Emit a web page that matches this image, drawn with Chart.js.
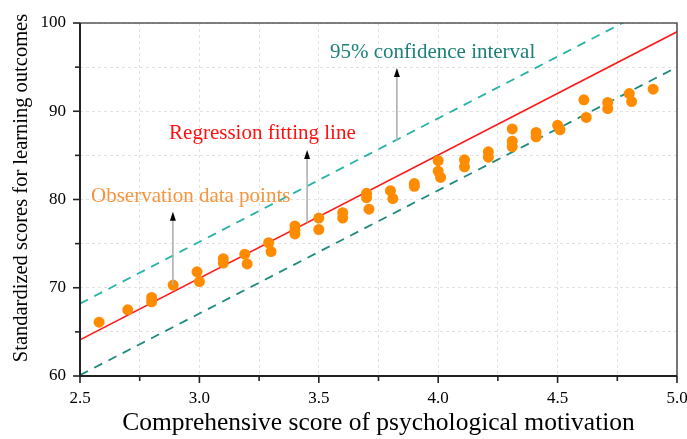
<!DOCTYPE html>
<html>
<head>
<meta charset="utf-8">
<script src="https://cdn.jsdelivr.net/npm/chart.js@4.4.1/dist/chart.umd.min.js"></script>
<style>
html, body { margin: 0; padding: 0; background: #fff; }
#wrap { width: 687px; height: 439px; }
</style>
</head>
<body>
<div id="wrap"><canvas id="chart" width="687" height="439"></canvas></div>
<script>
// observation points
const obsX = [2.58, 2.70, 2.80, 2.80, 2.89, 2.99, 3.00, 3.10, 3.10, 3.19, 3.20, 3.29, 3.30,
  3.40, 3.40, 3.40, 3.50, 3.50, 3.60, 3.60, 3.70, 3.70, 3.71, 3.80, 3.81, 3.90, 3.90,
  4.00, 4.00, 4.01, 4.11, 4.11, 4.21, 4.21, 4.31, 4.31, 4.31, 4.41, 4.41, 4.50, 4.51,
  4.61, 4.62, 4.71, 4.71, 4.80, 4.81, 4.90];
const obsY = [66.1, 67.5, 68.9, 68.4, 70.3, 71.8, 70.7, 73.3, 72.8, 73.8, 72.7, 75.1, 74.1,
  77.0, 76.5, 76.1, 77.9, 76.6, 78.5, 77.9, 80.7, 80.2, 78.9, 81.0, 80.1, 81.8, 81.5,
  84.4, 83.2, 82.5, 84.5, 83.7, 85.4, 84.8, 88.0, 86.6, 86.0, 87.6, 87.1, 88.4, 87.9,
  91.3, 89.3, 91.0, 90.3, 92.0, 91.1, 92.5];

// regression line and 95% band (end points)
const lineX = [2.5, 5.0];
const fitY = [64.1, 99.0];
const upperY = [68.2, 103.2];
const lowerY = [60.1, 95.0];

const xLabels = [2.5, 3.0, 3.5, 4.0, 4.5, 5.0];
const yLabels = [60, 70, 80, 90, 100];

const SERIF = '"Liberation Serif", "Times New Roman", serif';

function pairs(xs, ys) { return xs.map((x, i) => ({ x: x, y: ys[i] })); }
function isLabelX(v) { return xLabels.some(t => Math.abs(t - v) < 1e-6); }
function isLabelY(v) { return yLabels.some(t => Math.abs(t - v) < 1e-6); }

// text notes + arrows, placed in data units
const notes = [
  { text: "95% confidence interval", x: 3.547, y: 96.7, color: "#1b8078" },
  { text: "Regression fitting line", x: 2.873, y: 87.5, color: "#ff1010" },
  { text: "Observation data points", x: 2.546, y: 80.3, color: "#f7943c" }
];
const arrows = [
  { x: 3.827, from: 86.7, to: 94.9 },
  { x: 3.451, from: 77.4, to: 85.6 },
  { x: 2.889, from: 70.3, to: 78.6 }
];

const decor = {
  id: "decor",
  afterDatasetsDraw(chart) {
    const { ctx, chartArea: a, scales: { x, y } } = chart;
    ctx.save();

    // arrows
    arrows.forEach(ar => {
      const px = x.getPixelForValue(ar.x);
      const y0 = y.getPixelForValue(ar.from);
      const y1 = y.getPixelForValue(ar.to);
      ctx.strokeStyle = "#b0b0b0";
      ctx.lineWidth = 1.6;
      ctx.beginPath();
      ctx.moveTo(px, y0);
      ctx.lineTo(px, y1 + 8);
      ctx.stroke();
      ctx.fillStyle = "#000";
      ctx.beginPath();
      ctx.moveTo(px, y1);
      ctx.lineTo(px - 3, y1 + 9);
      ctx.lineTo(px + 3, y1 + 9);
      ctx.closePath();
      ctx.fill();
    });

    // notes
    ctx.font = "21px " + SERIF;
    ctx.textBaseline = "middle";
    ctx.textAlign = "left";
    notes.forEach(n => {
      ctx.fillStyle = n.color;
      ctx.fillText(n.text, x.getPixelForValue(n.x), y.getPixelForValue(n.y));
    });

    // frame
    ctx.strokeStyle = "#555";
    ctx.lineWidth = 1.6;
    ctx.beginPath();
    ctx.moveTo(a.left, a.top);
    ctx.lineTo(a.right, a.top);
    ctx.lineTo(a.right, a.bottom);
    ctx.stroke();
    ctx.strokeStyle = "#222";
    ctx.lineWidth = 2;
    ctx.beginPath();
    ctx.moveTo(a.left, a.top);
    ctx.lineTo(a.left, a.bottom);
    ctx.lineTo(a.right, a.bottom);
    ctx.stroke();

    // tick marks (major longer)
    ctx.lineWidth = 1.6;
    x.ticks.forEach(t => {
      const px = x.getPixelForValue(t.value);
      const len = isLabelX(t.value) ? 7 : 5;
      ctx.beginPath();
      ctx.moveTo(px, a.bottom);
      ctx.lineTo(px, a.bottom + len);
      ctx.stroke();
    });
    y.ticks.forEach(t => {
      const py = y.getPixelForValue(t.value);
      const len = isLabelY(t.value) ? 7 : 5;
      ctx.beginPath();
      ctx.moveTo(a.left, py);
      ctx.lineTo(a.left - len, py);
      ctx.stroke();
    });

    // y title (sits a bit above the plot centre in the reference)
    ctx.save();
    ctx.translate(22, 188);
    ctx.rotate(-Math.PI / 2);
    ctx.font = "20.5px " + SERIF;
    ctx.fillStyle = "#000";
    ctx.textAlign = "center";
    ctx.textBaseline = "middle";
    ctx.fillText("Standardized scores for learning outcomes", 0, 0);
    ctx.restore();

    ctx.restore();
  }
};

new Chart(document.getElementById("chart"), {
  type: "scatter",
  data: {
    datasets: [
      {
        label: "Observation data points",
        data: pairs(obsX, obsY),
        backgroundColor: "#ff8c00",
        borderColor: "#ff8c00",
        pointRadius: 5.5,
        borderWidth: 0,
        order: 0
      },
      {
        label: "Regression fitting line",
        type: "line",
        data: pairs(lineX, fitY),
        borderColor: "#ff1a1a",
        borderWidth: 1.6,
        pointRadius: 0,
        fill: false,
        order: 1
      },
      {
        label: "Upper 95%",
        type: "line",
        data: pairs(lineX, upperY),
        borderColor: "#27b3a6",
        borderWidth: 1.8,
        borderDash: [9, 7],
        pointRadius: 0,
        fill: false,
        order: 2
      },
      {
        label: "Lower 95%",
        type: "line",
        data: pairs(lineX, lowerY),
        borderColor: "#1f8a7d",
        borderWidth: 1.8,
        borderDash: [9, 7],
        pointRadius: 0,
        fill: false,
        order: 3
      }
    ]
  },
  options: {
    responsive: false,
    animation: false,
    devicePixelRatio: 1,
    layout: { padding: { top: 23, right: 10, left: 0, bottom: 0 } },
    plugins: { legend: { display: false }, tooltip: { enabled: false } },
    scales: {
      x: {
        type: "linear",
        min: 2.5,
        max: 5.0,
        afterFit: s => { s.height = 63; s.paddingLeft = 0; s.paddingRight = 0; },
        grid: { color: "#e2e2e2", lineWidth: 1, drawTicks: false },
        border: { display: false, dash: [3, 3] },
        ticks: {
          stepSize: 0.25,
          autoSkip: false,
          maxRotation: 0,
          padding: 12,
          color: "#000",
          font: { family: SERIF, size: 17 },
          callback: v => isLabelX(v) ? Number(v).toFixed(1) : ""
        },
        title: {
          display: true,
          text: "Comprehensive score of psychological motivation",
          color: "#000",
          font: { family: SERIF, size: 25.5 },
          padding: { top: 0, bottom: 0 }
        }
      },
      y: {
        type: "linear",
        min: 60,
        max: 100,
        afterFit: s => { s.width = 80; s.paddingTop = 0; s.paddingBottom = 0; },
        grid: { color: "#e2e2e2", lineWidth: 1, drawTicks: false },
        border: { display: false, dash: [3, 3] },
        ticks: {
          stepSize: 5,
          autoSkip: false,
          padding: 14,
          color: "#000",
          font: { family: SERIF, size: 17 },
          callback: v => isLabelY(v) ? String(v) : ""
        }
      }
    }
  },
  plugins: [decor]
});
</script>
</body>
</html>
